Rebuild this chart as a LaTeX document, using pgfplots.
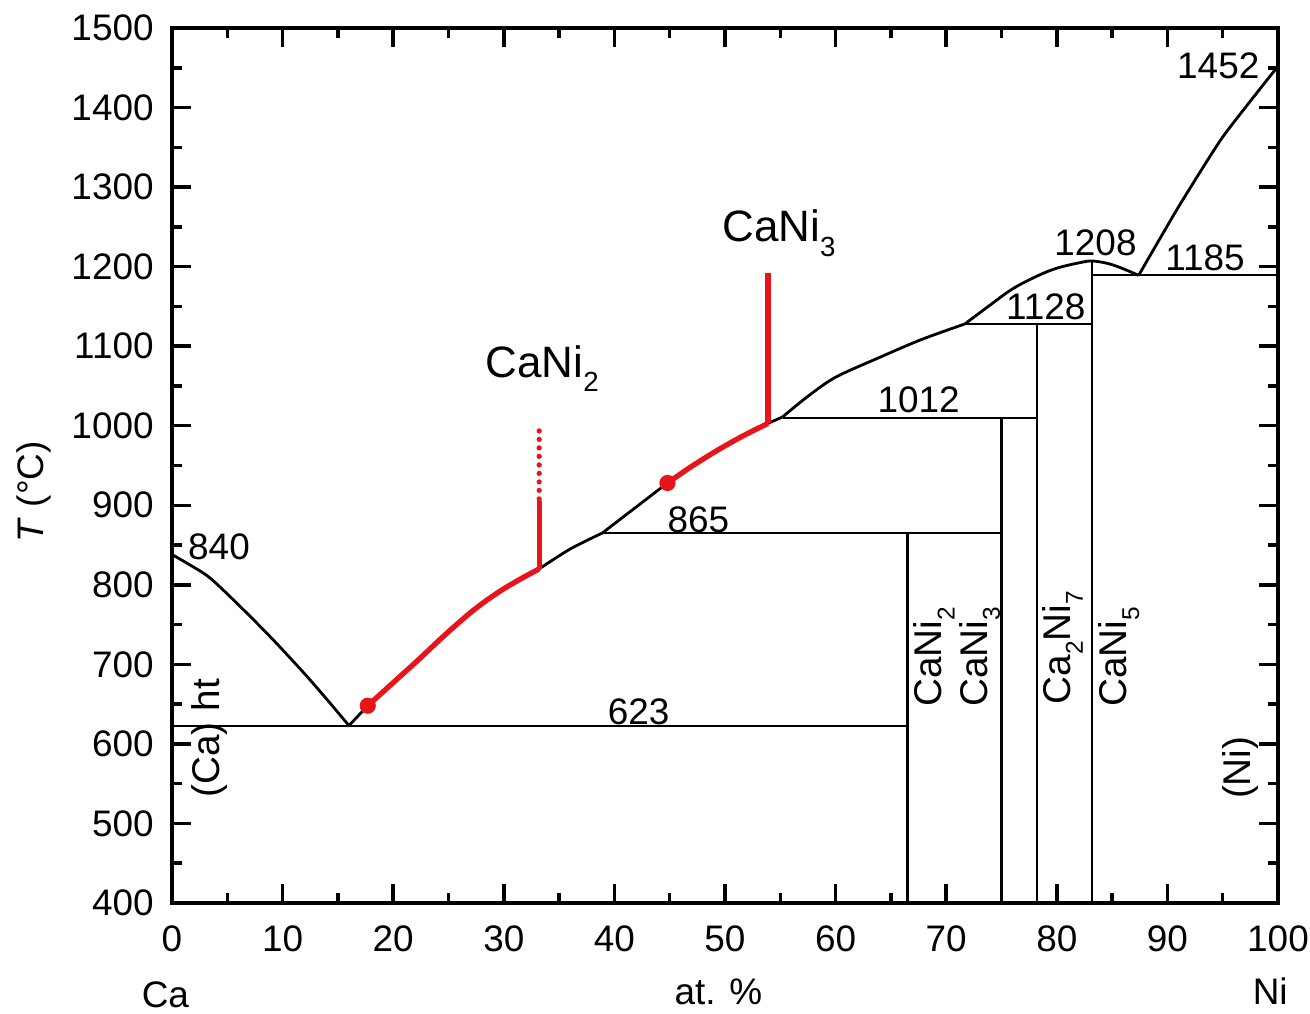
\documentclass[border=0pt]{standalone}
\usepackage{fontspec}
\setmainfont{Liberation Sans}
\usepackage{graphicx}
\usepackage{pgfplots}
\pgfplotsset{compat=1.18}
\definecolor{pdred}{RGB}{232,20,26}
\newcommand\sub[1]{\raisebox{-0.33em}{\scalebox{0.63}{#1}}}
\begin{document}
\begin{tikzpicture}
\begin{axis}[
 scale only axis, width=110.6mm, height=87.5mm,
 xmin=0,xmax=100,ymin=400,ymax=1500,
 xtick={0,10,...,100}, ytick={400,500,...,1500},
 minor x tick num=1, minor y tick num=1,
 tick align=inside,
 major tick length=1.9mm, minor tick length=1mm,
 every tick/.append style={black,line width=1pt},
 axis line style={line width=1.1pt},
 ticklabel style={font=\fontsize{10.5}{12}\selectfont},
 /pgf/number format/assume math mode=true,
 /pgf/number format/1000 sep={},
 xticklabel style={yshift=-1mm},
 yticklabel style={xshift=-0.6mm},
 clip=false,
]
% liquidus (black)
\addplot[black, line width=0.8pt, smooth, tension=0.5] coordinates {(0,838) (1.5,826) (3.4,809) (6,775) (9,733) (12,688) (14,656) (16,623)};
\addplot[black, line width=0.8pt] coordinates {(16,623) (17.7,648)};
\addplot[black, line width=0.8pt, smooth, tension=0.5] coordinates {(33.2,820) (36,845) (38.9,865)};
\addplot[black, line width=0.8pt] coordinates {(38.9,865) (41.8,896) (44.8,928)};
\addplot[black, line width=0.8pt] coordinates {(53.9,1003) (55.2,1011)};
\addplot[black, line width=0.8pt, smooth, tension=0.5] coordinates {(55.2,1011) (57.5,1037) (60,1061) (64,1086) (67.7,1108) (71.7,1128)};
\addplot[black, line width=0.8pt, smooth, tension=0.6] coordinates {(71.7,1128) (74,1152) (76,1172) (78.2,1188) (80,1198) (82.1,1205) (83.3,1207) (85.1,1202) (87.4,1189)};
\addplot[black, line width=0.8pt, smooth, tension=0.3] coordinates {(87.4,1189) (91,1275) (95,1363) (100,1452)};
% invariant horizontals
\addplot[black, line width=0.6pt] coordinates {(0,622) (66.5,622)};
\addplot[black, line width=0.6pt] coordinates {(38.9,865) (75,865)};
\addplot[black, line width=0.6pt] coordinates {(55.2,1010) (78.2,1010)};
\addplot[black, line width=0.6pt] coordinates {(71.7,1128) (83.2,1128)};
\addplot[black, line width=0.6pt] coordinates {(83.2,1189) (100,1189)};
% compound verticals
\addplot[black, line width=0.6pt] coordinates {(66.5,400) (66.5,865)};
\addplot[black, line width=0.6pt] coordinates {(75.0,400) (75.0,1010)};
\addplot[black, line width=0.6pt] coordinates {(78.2,400) (78.2,1128)};
\addplot[black, line width=0.6pt] coordinates {(83.2,400) (83.2,1207)};
% red segments
\addplot[pdred, line width=1.5pt, smooth, tension=0.5] coordinates {(17.7,648) (20,677) (22.3,706) (24.6,736) (26.9,764) (28.5,781) (30,795) (31.6,808) (33.2,820)};
\addplot[pdred, line width=1.5pt, smooth, tension=0.5] coordinates {(44.8,928) (47,949) (49.3,969) (51.6,987) (53.9,1003)};
\addplot[pdred, line width=1.5pt] coordinates {(33.2,820) (33.2,905)};
\addplot[pdred, line width=1.5pt, line cap=round, dash pattern=on 0pt off 0.85mm] coordinates {(33.2,908) (33.2,1001)};
\addplot[pdred, line width=1.5pt] coordinates {(53.9,1003) (53.9,1192)};
\addplot[pdred, only marks, mark=*, mark size=2.1pt] coordinates {(17.7,648) (44.8,928)};
% temperature labels
\begin{scope}[every node/.style={font=\fontsize{10.5}{12}\selectfont, inner sep=0}]
\node at (axis cs:4.25,848) {840};
\node at (axis cs:42.2,640) {623};
\node at (axis cs:47.6,882) {865};
\node at (axis cs:67.5,1032) {1012};
\node at (axis cs:79.0,1150) {1128};
\node at (axis cs:83.5,1230) {1208};
\node at (axis cs:93.4,1211) {1185};
\node at (axis cs:94.6,1453) {1452};
\end{scope}
% big labels
\node[font=\fontsize{12.5}{14}\selectfont, inner sep=0, anchor=base west] at (axis cs:28.3,1061) {CaNi\sub{2}};
\node[font=\fontsize{12.5}{14}\selectfont, inner sep=0, anchor=base west] at (axis cs:49.7,1231) {CaNi\sub{3}};
% rotated phase labels
\begin{scope}[every node/.style={font=\fontsize{11}{13}\selectfont, inner sep=0, rotate=90, anchor=base west}]
\node at (axis cs:69.6,646) {CaNi\sub{2}};
\node at (axis cs:73.7,646) {CaNi\sub{3}};
\node at (axis cs:81.2,649) {Ca\sub{2}Ni\sub{7}};
\node at (axis cs:86.3,646) {CaNi\sub{5}};
\node at (axis cs:97.5,530) {(Ni)};
\node at (axis cs:4.25,532) {(Ca) ht};
\end{scope}
% axis descriptions
\node[font=\fontsize{10.5}{12}\selectfont, inner sep=0, anchor=base] at (axis cs:-0.6,268) {Ca};
\node[font=\fontsize{10.5}{12}\selectfont, inner sep=0, anchor=base] at (axis cs:99.3,272) {Ni};
\node[font=\fontsize{10.5}{12}\selectfont, inner sep=0, anchor=base] at (axis cs:49.4,272) {at. \%};
\node[font=\fontsize{10.5}{12}\selectfont, inner sep=0, anchor=base, rotate=90] at (axis cs:-11.66,917) {\textit{T} (°C)};
\end{axis}
\pgfresetboundingbox
\path[use as bounding box] (current axis.south west) ++(-17.2mm,-11.1mm) rectangle ++(131mm,101.4mm);
\end{tikzpicture}
\end{document}
